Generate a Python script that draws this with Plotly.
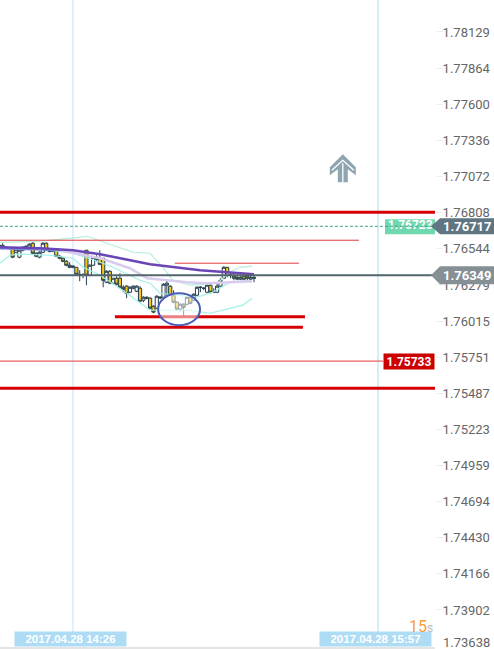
import plotly.graph_objects as go

minutes = list(range(-22, 55))
opens = [1.76547,1.76569,1.76555,1.76547,1.76547,1.76518,1.76482,1.76533,1.76562,1.76555,
1.76584,1.76511,1.76482,1.76518,1.76584,1.76533,1.76525,1.76533,1.76489,1.76474,
1.76452,1.76423,1.76408,1.76408,1.76357,1.76350,1.76533,1.76350,1.76423,1.76482,
1.76474,1.76474,1.76299,1.76379,1.76292,1.76328,1.76328,1.76262,1.76270,1.76226,
1.76255,1.76233,1.76255,1.76167,1.76189,1.76182,1.76123,1.76109,1.76182,1.76189,
1.76277,1.76270,1.76204,1.76153,1.76102,1.76138,1.76138,1.76189,1.76167,1.76204,
1.76262,1.76255,1.76226,1.76277,1.76226,1.76226,1.76270,1.76328,1.76408,1.76350,
1.76343,1.76335,1.76321,1.76343,1.76343,1.76321,1.76335]
closes = [1.76569,1.76547,1.76547,1.76547,1.76482,1.76540,1.76533,1.76555,1.76555,1.76577,
1.76511,1.76489,1.76518,1.76584,1.76533,1.76525,1.76533,1.76489,1.76474,1.76452,
1.76423,1.76408,1.76416,1.76357,1.76350,1.76350,1.76350,1.76423,1.76482,1.76467,
1.76430,1.76313,1.76379,1.76292,1.76328,1.76284,1.76262,1.76248,1.76218,1.76262,
1.76270,1.76270,1.76160,1.76189,1.76182,1.76109,1.76080,1.76196,1.76189,1.76284,
1.76292,1.76204,1.76153,1.76102,1.76138,1.76116,1.76189,1.76145,1.76211,1.76262,
1.76262,1.76255,1.76277,1.76226,1.76226,1.76270,1.76313,1.76408,1.76350,1.76350,
1.76328,1.76321,1.76335,1.76321,1.76328,1.76335,1.76328]
highs = [1.76599,1.76584,1.76555,1.76555,1.76555,1.76547,1.76540,1.76562,1.76569,1.76584,
1.76591,1.76518,1.76525,1.76591,1.76591,1.76540,1.76540,1.76540,1.76496,1.76482,
1.76460,1.76445,1.76423,1.76408,1.76387,1.76365,1.76533,1.76430,1.76489,1.76496,
1.76533,1.76474,1.76387,1.76387,1.76328,1.76343,1.76365,1.76277,1.76277,1.76270,
1.76277,1.76277,1.76270,1.76196,1.76196,1.76189,1.76131,1.76204,1.76196,1.76292,
1.76321,1.76277,1.76240,1.76160,1.76145,1.76145,1.76196,1.76196,1.76218,1.76270,
1.76270,1.76262,1.76284,1.76284,1.76255,1.76292,1.76328,1.76416,1.76408,1.76365,
1.76357,1.76350,1.76350,1.76357,1.76357,1.76350,1.76350]
lows = [1.76540,1.76540,1.76547,1.76540,1.76474,1.76511,1.76474,1.76525,1.76547,1.76547,
1.76504,1.76482,1.76474,1.76511,1.76525,1.76518,1.76518,1.76482,1.76467,1.76445,
1.76416,1.76401,1.76401,1.76350,1.76306,1.76328,1.76277,1.76343,1.76416,1.76452,
1.76423,1.76262,1.76292,1.76284,1.76284,1.76277,1.76255,1.76226,1.76182,1.76218,
1.76248,1.76226,1.76153,1.76153,1.76175,1.76102,1.76072,1.76102,1.76175,1.76182,
1.76189,1.76196,1.76145,1.76094,1.76087,1.76051,1.76131,1.76138,1.76160,1.76196,
1.76226,1.76240,1.76218,1.76218,1.76218,1.76218,1.76262,1.76321,1.76335,1.76328,
1.76313,1.76313,1.76313,1.76313,1.76306,1.76299,1.76299]

ma_slow_x = [-21.8,-9.8,0,8.1,23,37.9,54]
ma_slow = [1.76555,1.76547,1.76533,1.76504,1.76430,1.76387,1.76357]
ma_fast_x = [-3.9,8.1,17,22.1,34,40,46.8,53.4]
ma_fast = [1.76533,1.76474,1.76401,1.76328,1.76299,1.76292,1.76299,1.76306]
ma_blue_x = [-21.8,-3.9]
ma_blue = [1.76547,1.76535]
upper_x = [-21.8,-9.8,-0.9,4.2,10.1,17.9,23,26.8,29.8,34.9,43,46.8,49.8,53.4]
upper = [1.76591,1.76599,1.76620,1.76635,1.76584,1.76518,1.76511,1.76408,1.76313,1.76277,1.76292,1.76372,1.76408,1.76416]
mid_x = [-6.9,0,8.1,11.9,20,23,26,37,41.8,46.8,53.4]
mid = [1.76533,1.76511,1.76445,1.76408,1.76313,1.76292,1.76218,1.76189,1.76226,1.76299,1.76313]
lower_x = [-21.8,-18.8,-15.8,-6.9,0,3,8.1,16.1,23,28,34.9,40.9,46.8,50.7,53.4]
lower = [1.76438,1.76496,1.76504,1.76496,1.76474,1.76408,1.76350,1.76218,1.76094,1.76094,1.76094,1.76072,1.76109,1.76131,1.76182]

# level, start minute, end minute, width, colour
red_levels = [
    (1.76811, -21.8, 108, 3, "#d60000"),
    (1.76606, -21.8, 85.3, 1, "#e23c3c"),
    (1.76438, 30.4, 67.4, 1, "#e23c3c"),
    (1.76047, 12.5, 69.2, 3, "#d60000"),
    (1.75970, -21.8, 68.6, 3, "#d60000"),
    (1.75722, -21.8, 92.5, 1, "#e23c3c"),
    (1.75524, -21.8, 108, 3, "#d60000"),
]
tick_vals = [1.78129,1.77864,1.77600,1.77336,1.77072,1.76808,1.76544,1.76279,1.76015,
             1.75751,1.75487,1.75223,1.74959,1.74694,1.74430,1.74166,1.73902]
tick_text = [f"{v:.5f}" for v in tick_vals]
last_tick = "1.73638"
now_level = 1.76350
bid_level = 1.76708
time_marks = [(0, "2017.04.28 14:26"), (91, "2017.04.28 15:57")]

fig = go.Figure()
fig.add_trace(go.Candlestick(x=minutes, open=opens, high=highs, low=lows, close=closes,
    increasing=dict(line=dict(color="#24404f", width=1), fillcolor="#ffffff"),
    decreasing=dict(line=dict(color="#24404f", width=1), fillcolor="#f5c518"),
    whiskerwidth=0, showlegend=False, hoverinfo="skip"))


def line(x, y, color, width, dash="solid"):
    fig.add_trace(go.Scatter(x=x, y=y, mode="lines", showlegend=False, hoverinfo="skip",
                             line=dict(color=color, width=width, dash=dash)))


line(upper_x, upper, "#b2eeda", 1.2)
line(mid_x, mid, "#9ff0e8", 1.2)
line(lower_x, lower, "#9ff0e8", 1.2)
line(ma_fast_x, ma_fast, "#d8cbee", 2.5)
line(ma_blue_x, ma_blue, "#7f8fe0", 2.5)
line(ma_slow_x, ma_slow, "#6a45b5", 2.5)
line([-21.8, 108], [now_level, now_level], "#55656e", 2)
# bid label text sits beneath the dashed level line
fig.add_trace(go.Scatter(x=[100.6], y=[bid_level], mode="text", text=["<b>1.76723</b>"], showlegend=False,
                         hoverinfo="skip", textposition="middle center",
                         textfont=dict(family="Roboto", size=12, color="#ffffff")))
line([-21.8, 108], [bid_level, bid_level], "#3c9e8c", 1, "3px,2px")
for level, x0, x1, w, c in red_levels:
    line([x0, x1], [level, level], c, w)

shapes = []
for m, _ in time_marks:
    shapes.append(dict(type="line", layer="below", xref="x", yref="paper", x0=m, x1=m,
                       y0=14 / 647, y1=1, line=dict(color="#bfe2f4" if m == 0 else "#d5ecf9", width=1 if m == 0 else 2)))
shapes.append(dict(type="path", layer="below", xref="paper", yref="y", xsizemode="pixel",
                   ysizemode="pixel", xanchor=1, yanchor=bid_level,
                   path="M -50 -8 L 0 -8 L 0 7 L -50 7 Z", fillcolor="#6fd8ae", line=dict(width=0)))
# circle around the faded candles
shapes.append(dict(type="circle", layer="above", xref="x", yref="y", x0=25.4, x1=37.9,
                   y0=1.75985, y1=1.76218, fillcolor="rgba(255,255,255,0.5)",
                   line=dict(color="#4a5bb8", width=2)))
# price flags
for level, col, half in [(bid_level, "#5f7582", 8), (now_level, "#858f94", 9)]:
    shapes.append(dict(type="path", layer="above", xref="paper", yref="y", xsizemode="pixel",
                       ysizemode="pixel", xanchor=1, yanchor=level,
                       path=f"M -4 0 L 5 {half} L 59 {half} L 59 -{half} L 5 -{half} Z",
                       fillcolor=col, line=dict(width=0)))
# up arrow
shapes.append(dict(type="path", layer="above", xref="x", yref="y", xsizemode="pixel",
                   ysizemode="pixel", xanchor=80.5, yanchor=1.77132,
                   path="M 0 14 L 13 1 L 13 -7 L 5 -1 L 5 -14 L -5 -14 L -5 -1 L -13 -7 L -13 1 Z",
                   fillcolor="#8fa6b0", line=dict(width=0)))
shapes.append(dict(type="path", layer="above", xref="x", yref="y", xsizemode="pixel",
                   ysizemode="pixel", xanchor=80.5, yanchor=1.77132,
                   path="M -11 -2 L 0 8 L 11 -2 M 0 5 L 0 -14",
                   line=dict(color="#ffffff", width=1.3)))

ann = []
for m, t in time_marks:
    ann.append(dict(x=m, y=0, xref="x", yref="paper", xanchor="center", yanchor="bottom", xshift=-2.5,
                    text=f"<b>{t}</b>", showarrow=False, bgcolor="#aedcf5", width=111, height=14,
                    borderpad=0, font=dict(family="Liberation Sans", size=11.5, color="#ffffff")))
ann.append(dict(x=1, y=red_levels[5][0], xref="paper", yref="y", xanchor="right", yanchor="middle",
                text="<b>1.75733</b>", showarrow=False, bgcolor="#cc0000", width=50, height=15, borderpad=0,
                font=dict(family="Roboto", size=12, color="#ffffff")))
ann.append(dict(x=1, y=bid_level, xref="paper", yref="y", xanchor="left", yanchor="middle", xshift=6,
                text="<b>1.76717</b>", showarrow=False, font=dict(family="Roboto", size=13, color="#ffffff")))
ann.append(dict(x=1, y=now_level, xref="paper", yref="y", xanchor="left", yanchor="middle", xshift=6,
                text="<b>1.76349</b>", showarrow=False, font=dict(family="Roboto", size=13, color="#ffffff")))
ann.append(dict(x=1, y=5 / 647, xref="paper", yref="paper", xanchor="left", yanchor="middle", xshift=6,
                text=last_tick, showarrow=False, font=dict(family="Roboto", size=13, color="#666666")))
ann.append(dict(x=1, y=21 / 647, xref="paper", yref="paper", xanchor="right", yanchor="middle",
                text="15<span style='color:#bdbdbd;font-size:12px'>s</span>", showarrow=False,
                font=dict(family="Roboto", size=16, color="#f7a035")))

fig.update_layout(
    width=494, height=649, margin=dict(l=0, r=59, t=0, b=2),
    paper_bgcolor="#ffffff", plot_bgcolor="#ffffff", showlegend=False,
    boxgap=0.05, boxgroupgap=0,
    shapes=shapes, annotations=ann,
    xaxis=dict(range=[-21.78, 108], showgrid=False, zeroline=False, showticklabels=False, ticks="",
               rangeslider=dict(visible=False), showline=True, linecolor="#e4e4e4", linewidth=2),
    yaxis=dict(range=[1.73631, 1.78363], side="right", showgrid=False, zeroline=False,
               tickmode="array", tickvals=tick_vals, ticktext=tick_text, ticks="outside",
               ticklen=7, tickcolor="#eeeeee", tickwidth=1, showline=False, ticklabelstandoff=-3,
               tickfont=dict(family="Roboto", size=13, color="#666666")),
)
fig.write_html("out.html", config=dict(displayModeBar=False),
               post_script="document.documentElement.style.margin='0';document.body.style.margin='0';document.body.style.overflow='hidden';")
